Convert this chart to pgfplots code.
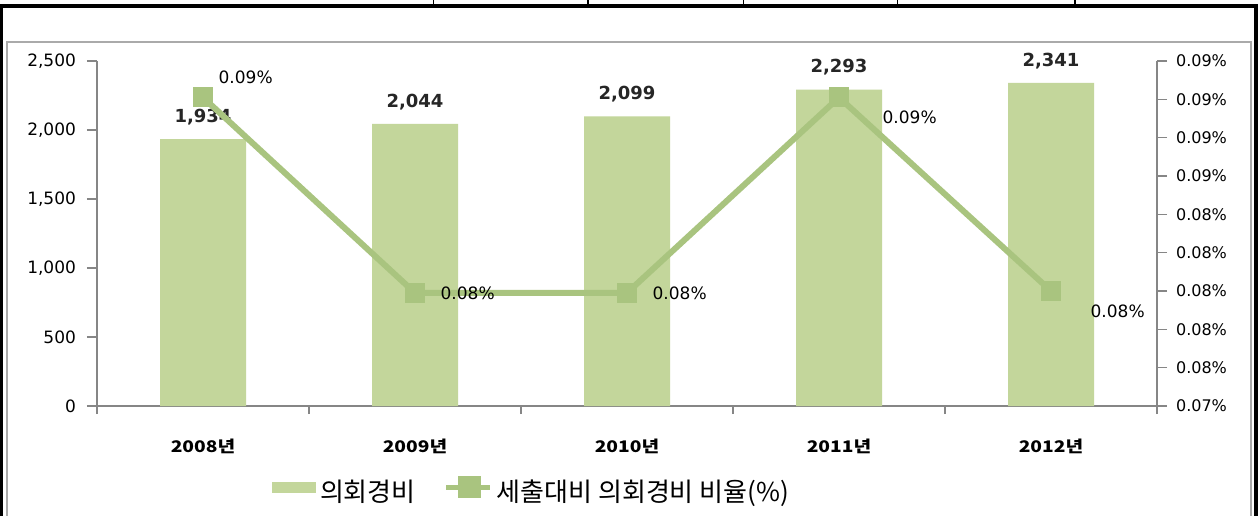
\documentclass[border=0pt]{standalone}
\usepackage{fontspec}
\setmainfont{DejaVu Sans}
\newfontfamily\kr{Noto Sans CJK KR}
\newfontfamily\krw[FakeStretch=1.2]{Noto Sans CJK KR}
\usepackage{pgfplots}
\pgfplotsset{compat=1.18}
\definecolor{BarC}{HTML}{C3D69B}
\definecolor{LineC}{HTML}{A9C47F}
\definecolor{AxC}{HTML}{868686}

\pgfplotstableread{
x y
0 1934
1 2044
2 2099
3 2293
4 2341
}\costs

\pgfplotstableread{
x y dx dy
0 0.0901 3 10
1 0.0799 8 0
2 0.0799 8 0
3 0.0901 17 -10
4 0.0800 15 -10
}\ratio

\begin{document}
\begin{tikzpicture}
\useasboundingbox (0,0) rectangle (629pt,258pt);
% frames
\fill[white] (0,0) rectangle (629pt,258pt);
\draw[AxC!70,line width=1pt] (3.5pt,0) -- (3.5pt,237pt) -- (625.5pt,237pt) -- (625.5pt,0);
\draw[black,line width=1.6pt] (0.8pt,0) -- (0.8pt,255pt) -- (628pt,255pt) -- (628pt,0);
\foreach \xx in {216.7,294,371.7,448.7,537.5}
  \draw[black,line width=0.8pt] (\xx pt,255pt) -- (\xx pt,258pt);

\begin{axis}[at={(48.5pt,55pt)},anchor=south west,scale only axis,
  width=530pt,height=172.5pt,
  xmin=-0.5,xmax=4.5,ymin=0,ymax=2500,
  axis y line*=left,axis x line*=bottom,
  axis line style={AxC,line width=1pt},
  every tick/.style={AxC,line width=0.8pt},
  tick align=outside,
  xtick={0,...,4},major x tick style={draw=none},
  xticklabels={2008년,2009년,2010년,2011년,2012년},
  xticklabel style={font=\krw\bfseries\fontsize{8}{9}\selectfont,yshift=-8pt},
  minor xtick={-0.5,0.5,...,4.5},minor tick length=4pt,
  ytick={0,500,...,2500},
  yticklabels={0,500,{1,000},{1,500},{2,000},{2,500}},
  yticklabel style={font=\fontsize{8.5}{10}\selectfont,xshift=-2pt},
  major tick length=5pt,
  ybar,bar width=43pt,
  nodes near coords={\pgfmathprintnumber[1000 sep={,},assume math mode=true]{\pgfplotspointmeta}},
  every node near coord/.append style={font=\bfseries\fontsize{9}{10}\selectfont,text=black!85,yshift=3.5pt},
  clip=false]
\addplot[fill=BarC,draw=none] table[x=x,y=y]{\costs};
\end{axis}

\begin{axis}[at={(48.5pt,55pt)},anchor=south west,scale only axis,
  width=530pt,height=172.5pt,
  xmin=-0.5,xmax=4.5,ymin=0.074,ymax=0.092,
  scaled y ticks=false,
  axis y line*=right,axis x line=none,
  axis line style={AxC,line width=1pt},
  every tick/.style={AxC,line width=0.8pt},
  tick align=outside,major tick length=5pt,
  ytick={0.074,0.076,...,0.0921},
  yticklabels={0.07\%,0.08\%,0.08\%,0.08\%,0.08\%,0.08\%,0.09\%,0.09\%,0.09\%,0.09\%},
  yticklabel style={font=\fontsize{8}{9}\selectfont,xshift=1pt},
  clip=false,
  legend columns=2,
  legend style={at={(0.411,-0.25)},anchor=center,draw=none,fill=none,
    font=\kr\fontsize{13}{15}\selectfont,
    /tikz/every even column/.append style={column sep=12pt}},
  legend image code/.code={}]
\addlegendimage{legend image code/.code={\fill[BarC] (0pt,0pt) rectangle (21.5pt,5pt);}}
\addlegendentry{의회경비}
\addplot[LineC,line width=3pt,mark=square*,mark size=3.5pt,
  mark options={fill=LineC,draw=none},
  legend image code/.code={\draw[LineC,line width=2.5pt] (0pt,2.5pt) -- (22pt,2.5pt);
     \fill[LineC] (7.5pt,-1.5pt) rectangle (16pt,6.5pt);},
  visualization depends on={\thisrow{dx} \as \dx},
  visualization depends on={\thisrow{dy} \as \dy},
  nodes near coords={\pgfmathprintnumber[fixed,precision=2,fixed zerofill,assume math mode=true]{\pgfplotspointmeta}\%},
  every node near coord/.style={anchor=west,text=black,font=\fontsize{8.5}{10}\selectfont,xshift=\dx pt,yshift=\dy pt}]
  table[x=x,y=y]{\ratio};
\addlegendentry{세출대비 의회경비 비율(\%)}
\end{axis}
\end{tikzpicture}
\end{document}
